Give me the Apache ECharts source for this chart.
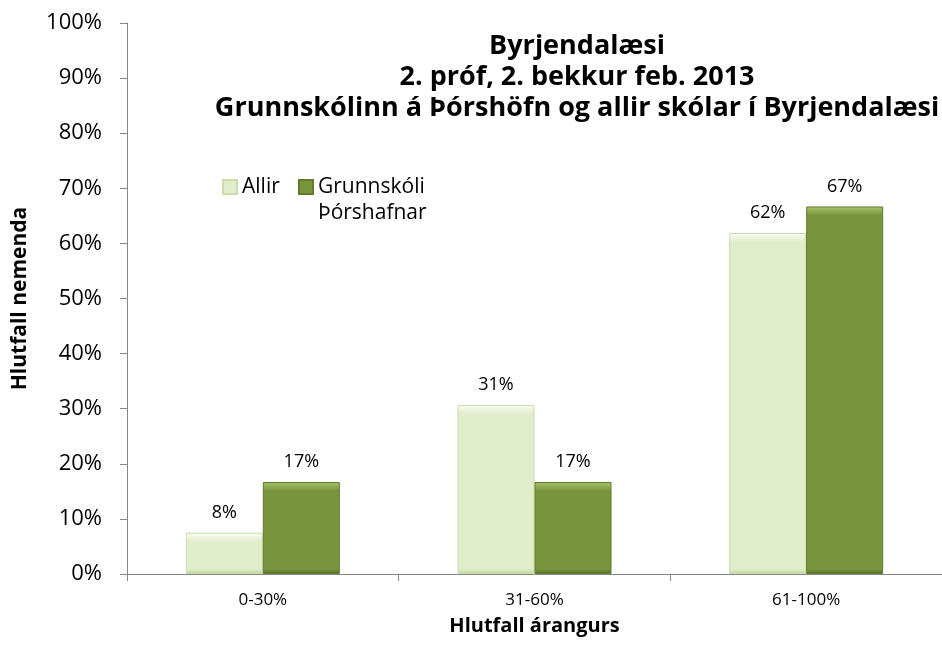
<!DOCTYPE html>
<html>
<head>
<meta charset="utf-8">
<script src="https://cdn.jsdelivr.net/npm/echarts@6/dist/echarts.min.js"></script>
<style>
html,body{margin:0;padding:0;background:#fff;}
#main{width:942px;height:652px;}
</style>
</head>
<body>
<div id="main"></div>
<script>
var categories = ['0-30%', '31-60%', '61-100%'];
var allir = [7.5, 30.7, 61.9];
var grunnskoli = [16.7, 16.7, 66.7];
var seriesNames = ['Allir', 'Grunnskóli\nÞórshafnar'];

var font = '"Open Sans", "Noto Sans", sans-serif';
var pxPerUnit = 551 / 100;   // plot height / axis range, for the bevel size

// bevelled bar look (light top edge, dark bottom edge), roughly fixed pixel size
function bevel(v, top, mid, bottom) {
    var h = Math.max(v * pxPerUnit, 1);
    var t = Math.min(9 / h, 0.45);
    var b = Math.min(5 / h, 0.45);
    return new echarts.graphic.LinearGradient(0, 0, 0, 1, [
        {offset: 0, color: top},
        {offset: t, color: mid},
        {offset: 1 - b, color: mid},
        {offset: 1, color: bottom}
    ]);
}

function makeData(values, top, mid, bottom) {
    return values.map(function (v) {
        return {value: v, itemStyle: {color: bevel(v, top, mid, bottom)}};
    });
}

var labelStyle = {
    show: true,
    position: 'top',
    distance: 11,
    fontFamily: font,
    fontSize: 18,
    color: '#000',
    formatter: function (p) { return Math.round(p.value) + '%'; }
};

var myChart = echarts.init(document.getElementById('main'));

var option = {
    animation: false,
    textStyle: {fontFamily: font},
    title: {
        text: 'Byrjendalæsi\n2. próf, 2. bekkur feb. 2013\nGrunnskólinn á Þórshöfn og allir skólar í Byrjendalæsi',
        left: 577,
        top: 31,
        textAlign: 'center',
        padding: 0,
        textStyle: {
            fontFamily: font,
            fontSize: 27,
            fontWeight: 'bold',
            color: '#000',
            lineHeight: 31
        }
    },
    legend: [
        {
            left: 222,
            top: 174,
            padding: 0,
            itemWidth: 14,
            itemHeight: 14,
            textStyle: {fontFamily: font, fontSize: 21, color: '#000', lineHeight: 26},
            data: [{name: seriesNames[0], icon: 'rect'}]
        },
        {
            // blank first line so the icon lines up with "Grunnskóli"
            left: 298,
            top: 148,
            padding: 0,
            itemWidth: 14,
            itemHeight: 14,
            formatter: function (name) { return ' \n' + name; },
            textStyle: {fontFamily: font, fontSize: 21, color: '#000', lineHeight: 26},
            data: [{name: seriesNames[1], icon: 'rect'}]
        }
    ],
    grid: {
        left: 127,
        right: -7,
        top: 23,
        bottom: 78
    },
    xAxis: {
        type: 'category',
        data: categories,
        name: 'Hlutfall árangurs',
        nameLocation: 'middle',
        nameGap: 42,
        nameTextStyle: {fontFamily: font, fontSize: 20, fontWeight: 'bold', color: '#000'},
        axisLine: {lineStyle: {color: '#868686'}},
        axisTick: {show: true, length: 7, lineStyle: {color: '#868686'}},
        axisLabel: {fontFamily: font, fontSize: 17, color: '#000', margin: 18}
    },
    yAxis: {
        type: 'value',
        min: 0,
        max: 100,
        interval: 10,
        name: 'Hlutfall nemenda',
        nameLocation: 'middle',
        nameGap: 96,
        nameTextStyle: {fontFamily: font, fontSize: 21, fontWeight: 'bold', color: '#000'},
        axisLine: {show: true, lineStyle: {color: '#868686'}},
        axisTick: {show: true, length: 7, lineStyle: {color: '#868686'}},
        splitLine: {show: false},
        axisLabel: {
            fontFamily: font, fontSize: 22, color: '#000', margin: 25,
            formatter: '{value}%'
        }
    },
    series: [
        {
            name: seriesNames[0],
            type: 'bar',
            data: makeData(allir, '#fbfdf5', '#e0ecca', '#c2d39f'),
            barWidth: 77,
            barGap: '0%',
            itemStyle: {color: '#e0ecca', borderColor: '#cbdbab', borderWidth: 1},
            label: labelStyle
        },
        {
            name: seriesNames[1],
            type: 'bar',
            data: makeData(grunnskoli, '#a8c56c', '#78953d', '#566d28'),
            barWidth: 77,
            barGap: '0%',
            itemStyle: {color: '#78953d', borderColor: '#62792f', borderWidth: 1},
            label: labelStyle
        }
    ]
};

myChart.setOption(option);
</script>
</body>
</html>
